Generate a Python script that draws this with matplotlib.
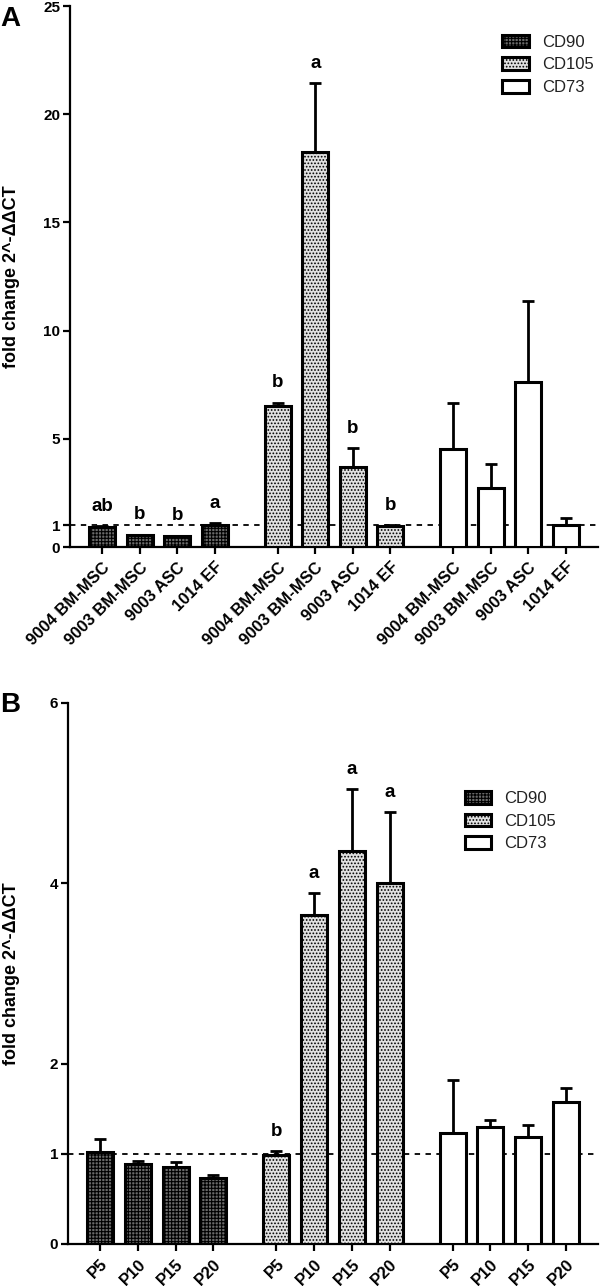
import numpy as np
import matplotlib
matplotlib.use("Agg")
import matplotlib.pyplot as plt
from matplotlib.patches import Patch

plt.rcParams['font.family'] = ['Liberation Sans', 'DejaVu Sans']
plt.rcParams['hatch.linewidth'] = 0.8

# ---- data: panel A (cell sources) ----
markers = ["CD90", "CD105", "CD73"]
labels_a = ["9004 BM-MSC", "9003 BM-MSC", "9003 ASC", "1014 EF"]
means_a = {
    "CD90": [0.92, 0.55, 0.50, 1.00],
    "CD105": [6.50, 18.25, 3.70, 0.97],
    "CD73": [4.53, 2.73, 7.62, 1.00],
}
errs_a = {
    "CD90": [0.05, 0.03, 0.03, 0.10],
    "CD105": [0.18, 3.20, 0.88, 0.04],
    "CD73": [2.12, 1.11, 3.75, 0.34],
}
letters_a = {
    "CD90": ["ab", "b", "b", "a"],
    "CD105": ["b", "a", "b", "b"],
    "CD73": ["", "", "", ""],
}

# ---- data: panel B (passages) ----
labels_b = ["P5", "P10", "P15", "P20"]
means_b = {
    "CD90": [1.02, 0.89, 0.855, 0.735],
    "CD105": [0.99, 3.65, 4.36, 4.00],
    "CD73": [1.23, 1.30, 1.19, 1.57],
}
errs_b = {
    "CD90": [0.14, 0.03, 0.055, 0.025],
    "CD105": [0.04, 0.24, 0.68, 0.79],
    "CD73": [0.59, 0.07, 0.13, 0.16],
}
letters_b = {
    "CD90": ["", "", "", ""],
    "CD105": ["b", "a", "a", "a"],
    "CD73": ["", "", "", ""],
}

styles = {
    "CD90": dict(facecolor="#6a6a6a", hatch="+++++"),
    "CD105": dict(facecolor="#e0e0e0", hatch="....."),
    "CD73": dict(facecolor="white", hatch=None),
}


def draw_panel(ax, labels, means, errs, letters, yticks, ymax, legend_anchor, label_x):
    gap = 0.67
    ticks, ticklabels = [], []
    for g, m in enumerate(markers):
        x = g * (len(labels) + gap) + np.arange(len(labels))
        ax.bar(x, means[m], width=0.69, edgecolor="black", linewidth=2.2,
               zorder=3, **styles[m])
        ax.errorbar(x, means[m], yerr=[np.zeros(len(labels)), errs[m]],
                    fmt="none", ecolor="black", elinewidth=2.0, capsize=4.5,
                    capthick=2.0, zorder=2)
        for xi, mi, ei, lt in zip(x, means[m], errs[m], letters[m]):
            if lt:
                ax.annotate(lt, (xi, mi + ei), xytext=(0, 8),
                            textcoords="offset points", ha="center",
                            va="bottom", fontsize=13.5, fontweight="bold")
        ticks.extend(x)
        ticklabels.extend(labels)

    ax.axhline(1, color="black", linestyle=(0, (3, 3)), linewidth=1.3, zorder=1)
    ax.set_xlim(-0.85, ticks[-1] + 0.85)
    ax.set_ylim(0, ymax)
    ax.set_yticks(yticks)
    ax.set_xticks(ticks)
    ax.set_xticklabels(ticklabels, rotation=45, ha="right",
                       rotation_mode="anchor", fontsize=12, fontweight="bold")
    for t in ax.get_yticklabels():
        t.set_fontweight("bold")
        t.set_fontsize(11)
    ax.tick_params(axis="both", direction="out", width=1.6, length=5)
    ax.tick_params(axis="y", pad=2)
    ax.tick_params(axis="x", pad=4)
    for s in ["top", "right"]:
        ax.spines[s].set_visible(False)
    for s in ["left", "bottom"]:
        ax.spines[s].set_linewidth(1.6)
    ax.set_ylabel("fold change 2^-ΔΔCT", fontsize=13, fontweight="bold")
    ax.yaxis.set_label_coords(label_x, 0.5)

    handles = [Patch(edgecolor="black", linewidth=2.2, **styles[m]) for m in markers]
    leg = ax.legend(handles, markers, loc="upper left", bbox_to_anchor=legend_anchor,
                    frameon=False, fontsize=12, handlelength=1.6, handleheight=0.8,
                    handletextpad=0.8, labelspacing=0.45)
    for t in leg.get_texts():
        t.set_color("#222222")


fig = plt.figure(figsize=(6.0, 12.86), dpi=100)
ax_a = fig.add_axes([0.1167, 0.5746, 0.88, 0.4207])
ax_b = fig.add_axes([0.1133, 0.0327, 0.8833, 0.4207])

draw_panel(ax_a, labels_a, means_a, errs_a, letters_a,
           [0, 1, 5, 10, 15, 20, 25], 25, (0.79, 0.975), -0.095)
draw_panel(ax_b, labels_b, means_b, errs_b, letters_b,
           [0, 1, 2, 4, 6], 6, (0.72, 0.865), -0.091)

fig.text(0.0, 0.995, "A", fontsize=20, fontweight="bold", va="top")
fig.text(0.0, 0.462, "B", fontsize=20, fontweight="bold", va="top")

fig.savefig("out.png", dpi=100)
